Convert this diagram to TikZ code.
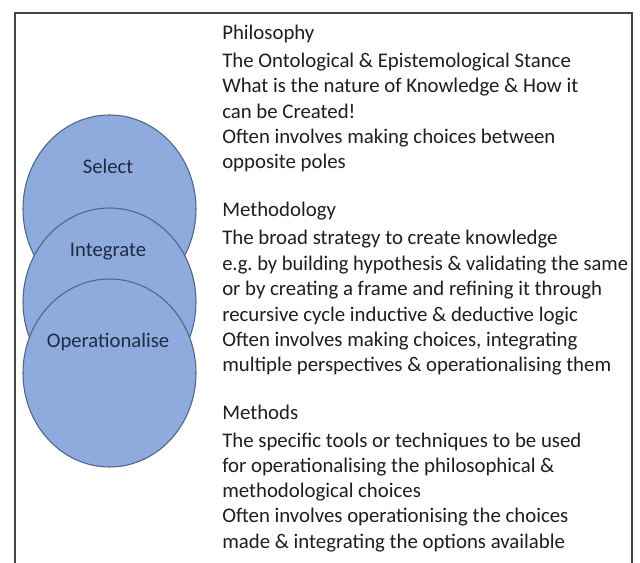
\documentclass[tikz,border=0pt]{standalone}
\usepackage{fontspec}
\setmainfont{Carlito}
\usetikzlibrary{shapes.geometric}
\definecolor{ellfill}{HTML}{8FAADC}
\definecolor{elldraw}{HTML}{4F6589}
\definecolor{elltext}{HTML}{1F2B45}
\definecolor{bodytext}{HTML}{1E1E1E}
\definecolor{framecol}{HTML}{444444}
\tikzset{
  ell/.style={ellipse, draw=elldraw, fill=ellfill, line width=0.8pt, minimum width=173*0.75pt, minimum height=188*0.75pt, inner sep=0pt},
  elllabel/.style={text=elltext, font=\fontsize{15.5}{17}\selectfont, inner sep=0pt, anchor=center},
  txt/.style={text=bodytext, font=\fontsize{15.6}{18}\selectfont\frenchspacing, inner sep=0pt, anchor=base west},
  head/.style={txt}
}
\begin{document}
\begin{tikzpicture}[x=0.75pt,y=-0.75pt]
\useasboundingbox (0,0) rectangle (640,563);
\fill[white] (0,0) rectangle (640,563);
% frame (open at the bottom)
\draw[framecol, line width=1.3pt] (15,563) -- (15,13) -- (632,13) -- (632,563);
% ellipses
\node[ell] (eSel) at (109.5,209) {};
\node[ell] (eInt) at (109.5,302) {};
\node[ell] (eOp) at (109.5,373) {};
\node[elllabel] (lSel) at (108,166) {Select};
\node[elllabel] (lInt) at (108,252) {Integrate};
\node[elllabel] (lOp) at (108,342) {Operationalise};
% Philosophy
\node[head] (h1) at (222,40) {Philosophy};
\node[txt] (p1) at (222,67.5) {The Ontological \& Epistemological Stance};
\node[txt] (p2) at (222,92.8) {What is the nature of Knowledge \& How it};
\node[txt] (p3) at (222,118.1) {can be Created!};
\node[txt] (p4) at (222,143.4) {Often involves making choices between};
\node[txt] (p5) at (222,168.7) {opposite poles};
% Methodology
\node[head] (h2) at (222,217) {Methodology};
\node[txt] (m1) at (222,245) {The broad strategy to create knowledge};
\node[txt, transform shape, xscale=0.985] (m2) at (222,270.4) {e.g. by building hypothesis \& validating the same};
\node[txt] (m3) at (222,295.8) {or by creating a frame and refining it through};
\node[txt] (m4) at (222,321.2) {recursive cycle inductive \& deductive logic};
\node[txt] (m5) at (222,346.6) {Often involves making choices, integrating};
\node[txt] (m6) at (222,372) {multiple perspectives \& operationalising them};
% Methods
\node[head] (h3) at (222,420) {Methods};
\node[txt] (t1) at (222,447) {The specific tools or techniques to be used};
\node[txt] (t2) at (222,472.3) {for operationalising the philosophical \&};
\node[txt] (t3) at (222,497.6) {methodological choices};
\node[txt] (t4) at (222,522.9) {Often involves operationising the choices};
\node[txt] (t5) at (222,548.2) {made \& integrating the options available};
\end{tikzpicture}
\end{document}
